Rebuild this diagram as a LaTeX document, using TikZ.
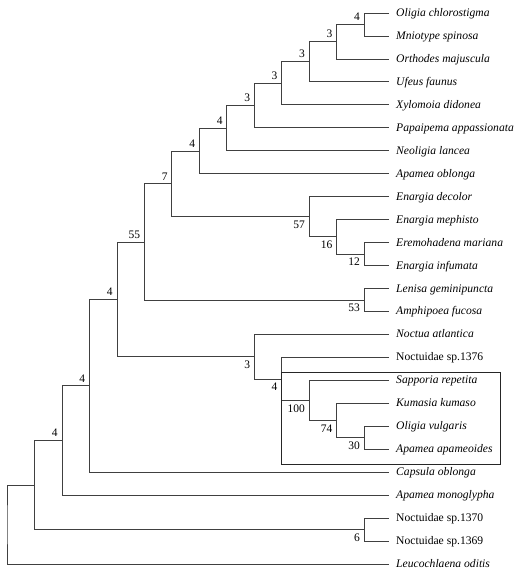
\documentclass[tikz,border=0pt]{standalone}
\usepackage{fontspec}
\setmainfont{Liberation Serif}
\begin{document}
\begin{tikzpicture}[x=1pt,y=-22.958pt,
  br/.style={draw=black!75,line width=0.8pt},
  leaf/.style={anchor=base west,inner sep=0pt,font=\fontsize{11.6}{13}\selectfont\itshape,yshift=-3.5pt},
  leafr/.style={anchor=base west,inner sep=0pt,font=\fontsize{11.6}{13}\selectfont,yshift=-3.5pt},
  up/.style={anchor=south east,inner sep=0pt,font=\fontsize{11.5}{13}\selectfont,xshift=-4pt,yshift=3.5pt},
  dn/.style={anchor=north east,inner sep=0pt,font=\fontsize{11.5}{13}\selectfont,xshift=-4pt,yshift=-4pt},
  boxst/.style={draw=black!85,line width=0.8pt}]
\useasboundingbox (0,0.43376) rectangle (527,25.6099);
% leaves
\foreach \i in {1,...,25}{\coordinate (e\i) at (389,\i);}
\node[leaf] (t1) at (396,1) {Oligia chlorostigma};
\node[leaf] (t2) at (396,2) {Mniotype spinosa};
\node[leaf] (t3) at (396,3) {Orthodes majuscula};
\node[leaf] (t4) at (396,4) {Ufeus faunus};
\node[leaf] (t5) at (396,5) {Xylomoia didonea};
\node[leaf] (t6) at (396,6) {Papaipema appassionata};
\node[leaf] (t7) at (396,7) {Neoligia lancea};
\node[leaf] (t8) at (396,8) {Apamea oblonga};
\node[leaf] (t9) at (396,9) {Enargia decolor};
\node[leaf] (t10) at (396,10) {Enargia mephisto};
\node[leaf] (t11) at (396,11) {Eremohadena mariana};
\node[leaf] (t12) at (396,12) {Enargia infumata};
\node[leaf] (t13) at (396,13) {Lenisa geminipuncta};
\node[leaf] (t14) at (396,14) {Amphipoea fucosa};
\node[leaf] (t15) at (396,15) {Noctua atlantica};
\node[leafr] (t16) at (396,16) {Noctuidae sp.1376};
\node[leaf] (t17) at (396,17) {Sapporia repetita};
\node[leaf] (t18) at (396,18) {Kumasia kumaso};
\node[leaf] (t19) at (396,19) {Oligia vulgaris};
\node[leaf] (t20) at (396,20) {Apamea apameoides};
\node[leaf] (t21) at (396,21) {Capsula oblonga};
\node[leaf] (t22) at (396,22) {Apamea monoglypha};
\node[leafr] (t23) at (396,23) {Noctuidae sp.1370};
\node[leafr] (t24) at (396,24) {Noctuidae sp.1369};
\node[leaf] (t25) at (396,25) {Leucochlaena oditis};
% internal nodes
\coordinate (P) at (364,1.5);
\coordinate (O) at (336.5,2.25);
\coordinate (N) at (309.1,3.125);
\coordinate (M) at (281.6,4.0625);
\coordinate (L) at (254.2,5.03125);
\coordinate (K) at (226.7,6.015625);
\coordinate (J) at (199.2,7.0078125);
\coordinate (I) at (364,11.5);
\coordinate (H) at (336.5,10.75);
\coordinate (G) at (309.1,9.875);
\coordinate (F) at (171.8,8.44140625);
\coordinate (Lp) at (364,13.5);
\coordinate (E) at (144.3,10.970703);
\coordinate (Q30) at (364,19.5);
\coordinate (Q74) at (336.5,18.75);
\coordinate (Q100) at (309.1,17.875);
\coordinate (Q4) at (281.6,16.9375);
\coordinate (Q3) at (254.2,15.96875);
\coordinate (D) at (116.9,13.469727);
\coordinate (C) at (89.4,17.234863);
\coordinate (B) at (61.9,19.617432);
\coordinate (Np) at (364,23.5);
\coordinate (A) at (34.5,21.558716);
\coordinate (R) at (7,23.279358);
% branches
\draw[br] (e1) -| (P) |- (e2);
\draw[br] (P) -| (O) |- (e3);
\draw[br] (O) -| (N) |- (e4);
\draw[br] (N) -| (M) |- (e5);
\draw[br] (M) -| (L) |- (e6);
\draw[br] (L) -| (K) |- (e7);
\draw[br] (K) -| (J) |- (e8);
\draw[br] (e11) -| (I) |- (e12);
\draw[br] (e10) -| (H) |- (I);
\draw[br] (e9) -| (G) |- (H);
\draw[br] (J) -| (F) |- (G);
\draw[br] (e13) -| (Lp) |- (e14);
\draw[br] (F) -| (E) |- (Lp);
\draw[br] (e19) -| (Q30) |- (e20);
\draw[br] (e18) -| (Q74) |- (Q30);
\draw[br] (e17) -| (Q100) |- (Q74);
\draw[br] (e16) -| (Q4) |- (Q100);
\draw[br] (e15) -| (Q3) |- (Q4);
\draw[br] (E) -| (D) |- (Q3);
\draw[br] (D) -| (C) |- (e21);
\draw[br] (C) -| (B) |- (e22);
\draw[br] (e23) -| (Np) |- (e24);
\draw[br] (B) -| (A) |- (Np);
\draw[br] (A) -| (R) |- (e25);
% support labels
\node[up] (lP) at (P) {4};
\node[up] (lO) at (O) {3};
\node[up] (lN) at (N) {3};
\node[up] (lM) at (M) {3};
\node[up] (lL) at (L) {3};
\node[up] (lK) at (K) {4};
\node[up] (lJ) at (J) {4};
\node[up] (lF) at (F) {7};
\node[up] (lE) at (E) {55};
\node[up] (lD) at (D) {4};
\node[up] (lC) at (C) {4};
\node[up] (lB) at (B) {4};
\node[dn] (lG) at (G) {57};
\node[dn] (lH) at (H) {16};
\node[dn] (lI) at (I) {12};
\node[dn] (lLp) at (Lp) {53};
\node[dn] (lQ3) at (Q3) {3};
\node[dn] (lQ4) at (Q4) {4};
\node[dn] (lQ100) at (Q100) {100};
\node[dn] (lQ74) at (Q74) {74};
\node[dn] (lQ30) at (Q30) {30};
\node[dn] (lNp) at (Np) {6};
% highlight box
\draw[boxst] (281.6,16.637) rectangle (500,20.645);
\end{tikzpicture}
\end{document}
